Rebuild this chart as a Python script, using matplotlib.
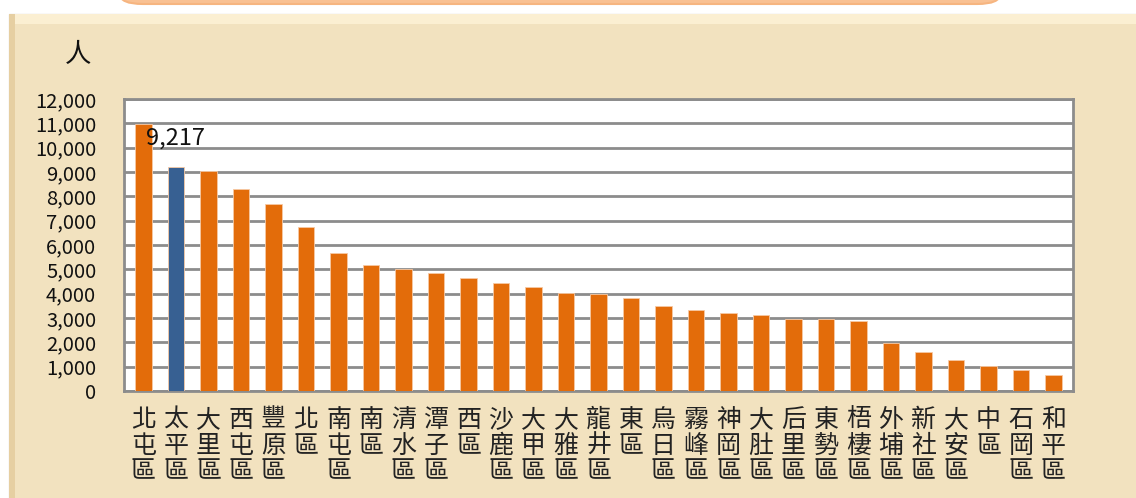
import numpy as np
import matplotlib
matplotlib.use("Agg")
import matplotlib.pyplot as plt
from matplotlib.patches import Rectangle, FancyBboxPatch
from matplotlib.ticker import FuncFormatter

plt.rcParams['font.family'] = ['Noto Sans CJK TC', 'DejaVu Sans']

# district names and counts (people)
districts = ['北屯區', '太平區', '大里區', '西屯區', '豐原區', '北區', '南屯區', '南區',
             '清水區', '潭子區', '西區', '沙鹿區', '大甲區', '大雅區', '龍井區', '東區',
             '烏日區', '霧峰區', '神岡區', '大肚區', '后里區', '東勢區', '梧棲區', '外埔區',
             '新社區', '大安區', '中區', '石岡區', '和平區']
values = [10980, 9217, 9040, 8300, 7670, 6730, 5660, 5190,
          5010, 4860, 4660, 4450, 4290, 4010, 3970, 3810,
          3490, 3340, 3220, 3120, 2970, 2960, 2860, 1970,
          1600, 1290, 1010, 860, 640]
highlight = '太平區'
y_ticks = list(range(0, 12001, 1000))

orange = '#E36C0A'
blue = '#376092'

W, H = 1136, 498
fig = plt.figure(figsize=(W / 100, H / 100), dpi=100)
fig.patch.set_facecolor('white')

def add_rect(x0, y0, x1, y1, **kw):
    # pixel coords from top-left of the image
    r = Rectangle((x0 / W, 1 - y1 / H), (x1 - x0) / W, (y1 - y0) / H,
                  transform=fig.transFigure, **kw)
    fig.patches.append(r)

# parchment panel behind the chart, with a bevelled top and left edge
add_rect(9, 14, W, H, facecolor='#EEDBB2', edgecolor='#E2E0DA', lw=1, zorder=-4)
add_rect(9, 14, W, 24, facecolor='#FBEFD2', edgecolor='none', zorder=-3)
add_rect(9, 14, 15, H, facecolor='#E6CFA2', edgecolor='none', zorder=-3)
add_rect(15, 24, W, H, facecolor='#F2E2BF', edgecolor='none', zorder=-2)
# bottom of the orange title box peeking in at the top
title_box = FancyBboxPatch((120 / W, 1 - 4 / H), 880 / W, 40 / H,
                           boxstyle='round,pad=0,rounding_size=0.02',
                           transform=fig.transFigure, facecolor='#F9C193',
                           edgecolor='#F6B580', lw=1.5, zorder=-1)
fig.patches.append(title_box)

ax = fig.add_axes([124 / W, 1 - 391 / H, 949 / W, 292 / H])
ax.set_zorder(2)
ax.set_facecolor('white')

x = np.arange(len(districts))
colors = [blue if d == highlight else orange for d in districts]
ax.bar(x, values, width=0.5, color=colors, edgecolor='#F7C9A4', linewidth=0.6, zorder=3)

ax.set_xlim(-0.6, len(districts) - 0.4)
ax.set_ylim(0, 12000)
ax.set_yticks(y_ticks)
ax.yaxis.set_major_formatter(FuncFormatter(lambda v, p: f'{int(v):,}'))
ax.tick_params(axis='y', length=0, pad=20, labelsize=14.5, labelcolor='#111111')
ax.set_xticks([])
ax.grid(axis='y', color='#8C8C8C', linewidth=2, zorder=1)
for s in ax.spines.values():
    s.set_color('#8C8C8C')
    s.set_linewidth(2)

# vertical district labels
for i, d in enumerate(districts):
    ax.text(i, -0.055, '\n'.join(d), transform=ax.get_xaxis_transform(),
            ha='center', va='top', fontsize=18, linespacing=0.98, color='#222222',
            fontweight='light')

# unit label and highlighted value
fig.text(78 / W, 1 - 55 / H, '人', fontsize=19, ha='center', va='center', color='#111111')
i_h = districts.index(highlight)
ax.text(i_h - 0.93, values[0] - 120, f'{values[i_h]:,}', fontsize=17, ha='left', va='top',
        color='#111111', zorder=5)

fig.savefig('out.png', dpi=100, facecolor=fig.get_facecolor())
